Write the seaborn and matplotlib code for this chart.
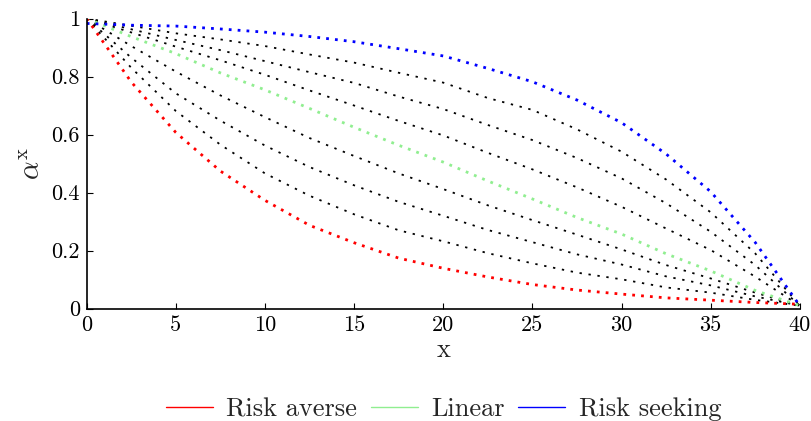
import matplotlib
matplotlib.use("Agg")
import matplotlib.pyplot as plt
from matplotlib.lines import Line2D
import seaborn as sns
import pandas as pd

# Sample positions along x and the curve values read at each position
x_vals = [0, 2.5, 5, 7.5, 10, 12.5, 15, 17.5, 20, 22.5, 25, 27.5, 30, 32.5, 35, 37.5, 40]

risk_averse = [1.0, 0.781, 0.607, 0.474, 0.373, 0.287, 0.227, 0.174, 0.139, 0.109, 0.083,
               0.064, 0.050, 0.037, 0.029, 0.021, 0.015]
mid_low_3 = [1.0, 0.83, 0.681, 0.565, 0.466, 0.389, 0.325, 0.270, 0.232, 0.191, 0.156,
             0.124, 0.101, 0.073, 0.055, 0.030, 0.010]
mid_low_2 = [1.0, 0.865, 0.742, 0.648, 0.562, 0.488, 0.425, 0.368, 0.320, 0.271, 0.229,
             0.187, 0.152, 0.111, 0.080, 0.042, 0.010]
mid_low_1 = [1.0, 0.905, 0.817, 0.735, 0.660, 0.588, 0.526, 0.466, 0.412, 0.356, 0.305,
             0.255, 0.204, 0.150, 0.104, 0.055, 0.010]
linear = [1.0, 0.9375, 0.879, 0.8125, 0.754, 0.690, 0.625, 0.563, 0.505, 0.440, 0.378,
          0.314, 0.257, 0.189, 0.130, 0.0625, 0.010]
mid_high_1 = [1.0, 0.952, 0.903, 0.856, 0.806, 0.752, 0.700, 0.647, 0.597, 0.537, 0.480,
              0.418, 0.351, 0.276, 0.202, 0.11, 0.010]
mid_high_2 = [1.0, 0.963, 0.926, 0.891, 0.853, 0.815, 0.778, 0.731, 0.688, 0.633, 0.581,
              0.519, 0.449, 0.363, 0.265, 0.15, 0.010]
mid_high_3 = [1.0, 0.975, 0.949, 0.928, 0.905, 0.876, 0.848, 0.813, 0.779, 0.726, 0.685,
              0.618, 0.541, 0.445, 0.332, 0.19, 0.010]
risk_seeking = [0.983, 0.977, 0.974, 0.964, 0.953, 0.938, 0.920, 0.896, 0.871, 0.828, 0.782,
                0.719, 0.641, 0.533, 0.403, 0.228, 0.010]

x_ticks = [0, 5, 10, 15, 20, 25, 30, 35, 40]
x_tick_labels = ["0", "5", "10", "15", "20", "25", "30", "35", "40"]
y_ticks = [0, 0.2, 0.4, 0.6, 0.8, 1]
y_tick_labels = ["0", "0.2", "0.4", "0.6", "0.8", "1"]

legend_labels = ["Risk averse", "Linear", "Risk seeking"]

sns.set_theme(style="white")
plt.rcParams["font.family"] = ["cmr10", "DejaVu Serif"]
plt.rcParams["mathtext.fontset"] = "cm"
plt.rcParams["axes.formatter.use_mathtext"] = True

fig = plt.figure(figsize=(8.12, 4.21), dpi=100)
ax = fig.add_axes([0.1068, 0.267, 0.8782, 0.689])

RED = "#ff0000"
GREEN = "#90ee90"
BLUE = "#0000ff"

black_curves = [mid_low_3, mid_low_2, mid_low_1, mid_high_1, mid_high_2, mid_high_3]
for ys in black_curves:
    df = pd.DataFrame({"x": x_vals, "y": ys})
    sns.lineplot(data=df, x="x", y="y", ax=ax, color="black", linewidth=1.3,
                 linestyle=(0, (1.3, 3.7)), sort=False, estimator=None)

for ys, col in [(linear, GREEN), (risk_averse, RED), (risk_seeking, BLUE)]:
    df = pd.DataFrame({"x": x_vals, "y": ys})
    sns.lineplot(data=df, x="x", y="y", ax=ax, color=col, linewidth=2.0,
                 linestyle=(0, (1.0, 2.2)), sort=False, estimator=None)

ax.set_xlim(0, 40)
ax.set_ylim(0, 1)
ax.set_xticks(x_ticks)
ax.set_xticklabels(x_tick_labels)
ax.set_yticks(y_ticks)
ax.set_yticklabels(y_tick_labels)
ax.tick_params(direction="in", length=4, width=0.8, labelsize=16, colors="black",
               bottom=True, left=True, top=False, right=False, pad=5)

for side in ["top", "right"]:
    ax.spines[side].set_visible(False)
for side in ["left", "bottom"]:
    ax.spines[side].set_color("black")
    ax.spines[side].set_linewidth(1.2)

ax.set_xlabel("x", fontsize=19, labelpad=2)
ax.set_ylabel(r"$\alpha^{\mathrm{x}}$", fontsize=21, labelpad=4)

handles = [Line2D([0], [0], color=RED, lw=1.0),
           Line2D([0], [0], color=GREEN, lw=1.0),
           Line2D([0], [0], color=BLUE, lw=1.0)]
fig.legend(handles, legend_labels, loc="center", bbox_to_anchor=(0.546, 0.028),
           ncol=3, frameon=False, fontsize=19, handlelength=1.78,
           handletextpad=0.5, columnspacing=0.53)

fig.savefig("out.png", dpi=100)
